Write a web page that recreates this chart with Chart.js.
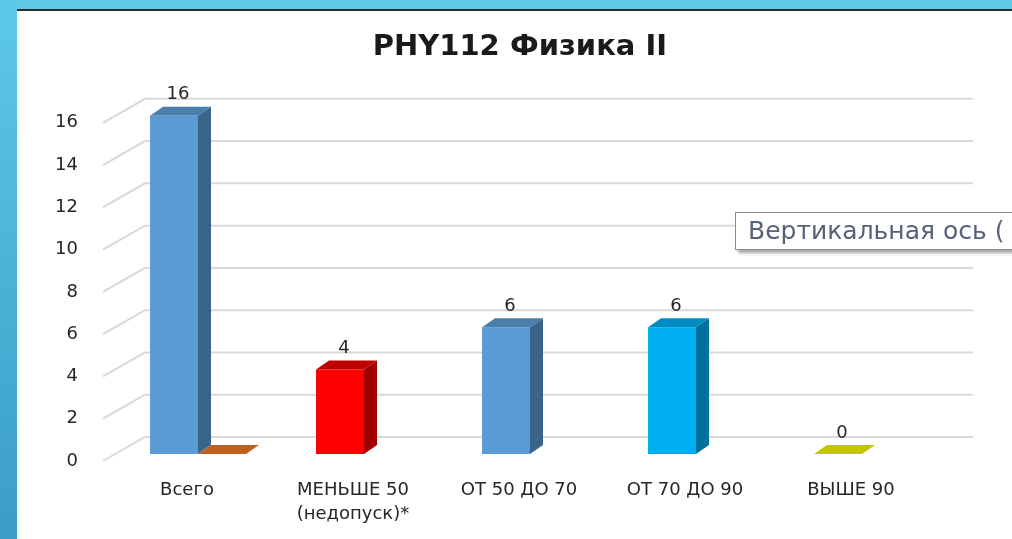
<!DOCTYPE html>
<html lang="ru">
<head>
<meta charset="utf-8">
<title>PHY112 Физика II</title>
<script src="https://cdn.jsdelivr.net/npm/chart.js@4.4.1/dist/chart.umd.min.js"></script>
<style>
  html, body { margin: 0; padding: 0; width: 1012px; height: 539px; overflow: hidden; background: #fff; }
  #topbar { position: absolute; left: 0; top: 0; width: 1012px; height: 9px; background: #5fcbe9; border-bottom: 2px solid #2b2b2b; }
  #leftbar { position: absolute; left: 0; top: 0; width: 17px; height: 539px; background: linear-gradient(#5dc9e8, #3a9dc7); }
  #chart { position: absolute; left: 0; top: 0; }
  #axisTip {
    position: absolute; left: 735px; top: 212px; width: 320px; height: 38px;
    background: #fff; border: 1px solid #8c8c8c; box-shadow: 3px 3px 3px rgba(0,0,0,0.35);
    font: 25px "DejaVu Sans", sans-serif; color: #56617a; line-height: 36px;
    padding-left: 12px; white-space: nowrap; box-sizing: border-box;
  }
</style>
</head>
<body>
<div id="topbar"></div>
<div id="leftbar"></div>
<canvas id="chart" width="1012" height="539"></canvas>
<div id="axisTip">Вертикальная ось (</div>
<script>
const categories = ['Всего', ['МЕНЬШЕ 50', '(недопуск)*'], 'ОТ 50 ДО 70', 'ОТ 70 ДО 90', 'ВЫШЕ 90'];
const mainValues = [16, 4, 6, 6, 0];
const extraValues = [0, null, null, null, null];
const yMax = 16;
const yStep = 2;

// colours for the faces of the 3d bars
const frontColors = ['#5b9bd5', '#ff0000', '#5b9bd5', '#00b0f0', '#c4c400'];
const sideColors = ['#3a6589', '#a00000', '#3a6589', '#00709c', '#c4c400'];
const topColors = ['#4a7eab', '#c00000', '#4a7eab', '#008cc2', '#c4c400'];
const extraColor = '#c0601f';

const DX = 13, DY = -9;

function poly(ctx, pts) {
  ctx.beginPath();
  ctx.moveTo(pts[0][0], pts[0][1]);
  for (let i = 1; i < pts.length; i++) ctx.lineTo(pts[i][0], pts[i][1]);
  ctx.closePath();
  ctx.fill();
}

const depth3d = {
  id: 'depth3d',
  beforeDatasetsDraw(chart) {
    const { ctx, chartArea, scales: { y } } = chart;
    ctx.save();
    ctx.strokeStyle = '#d9d9d9';
    ctx.lineWidth = 2;
    y.ticks.forEach(t => {
      const py = y.getPixelForValue(t.value);
      ctx.beginPath();
      ctx.moveTo(chartArea.left - 12, py + 7);
      ctx.lineTo(chartArea.left + 30, py - 17);
      ctx.lineTo(chartArea.right + 28, py - 17);
      ctx.stroke();
    });
    ctx.restore();
  },
  afterDatasetsDraw(chart) {
    const ctx = chart.ctx;
    ctx.save();
    chart.data.datasets.forEach((ds, di) => {
      chart.getDatasetMeta(di).data.forEach((bar, i) => {
        const v = ds.data[i];
        if (v === null) return;
        const { x, y, base, width } = bar.getProps(['x', 'y', 'base', 'width'], true);
        const l = x - width / 2, r = x + width / 2;
        const front = di === 0 ? frontColors[i] : extraColor;
        // top face (for a zero bar this is the flat slab)
        ctx.fillStyle = v === 0 ? front : topColors[i];
        poly(ctx, [[l, y], [r, y], [r + DX, y + DY], [l + DX, y + DY]]);
        if (base - y > 0) {
          ctx.fillStyle = sideColors[i];
          poly(ctx, [[r, y], [r + DX, y + DY], [r + DX, base + DY], [r, base]]);
        }
        if (di === 0) {
          ctx.fillStyle = '#262626';
          ctx.font = '18px "DejaVu Sans", sans-serif';
          ctx.textAlign = 'center';
          ctx.textBaseline = 'middle';
          ctx.fillText(String(v), x + 4, y - 21);
        }
      });
    });
    ctx.restore();
  }
};

new Chart(document.getElementById('chart'), {
  type: 'bar',
  data: {
    labels: categories,
    datasets: [
      {
        label: 'Количество',
        data: mainValues,
        backgroundColor: frontColors,
        borderWidth: 0
      },
      {
        label: 'Прочее',
        data: extraValues,
        backgroundColor: extraColor,
        borderWidth: 0
      }
    ]
  },
  options: {
    responsive: false,
    animation: false,
    devicePixelRatio: 1,
    categoryPercentage: 0.578,
    barPercentage: 1.0,
    layout: {
      padding: { left: 30, right: 67, top: 0, bottom: 0 }
    },
    plugins: {
      legend: { display: false },
      tooltip: { enabled: false },
      title: {
        display: true,
        text: 'PHY112 Физика II  ',
        color: '#1a1a1a',
        fullSize: false,
        font: { family: 'DejaVu Sans', size: 29, weight: 'bold', lineHeight: 1.2 },
        padding: { top: 30, bottom: 51 }
      }
    },
    scales: {
      x: {
        afterFit(scale) { scale.height = 85; },
        grid: { display: false, drawTicks: false },
        border: { display: false },
        ticks: {
          color: '#262626',
          font: { family: 'DejaVu Sans', size: 18, lineHeight: 1.35 },
          padding: 24,
          labelOffset: -11,
          maxRotation: 0,
          autoSkip: false
        }
      },
      y: {
        min: 0,
        max: yMax,
        afterFit(scale) { scale.width = 85; },
        grid: { display: false, drawTicks: false },
        border: { display: false },
        ticks: {
          stepSize: yStep,
          color: '#262626',
          font: { family: 'DejaVu Sans', size: 18 },
          padding: 37,
          labelOffset: 7
        }
      }
    }
  },
  plugins: [depth3d]
});
</script>
</body>
</html>
